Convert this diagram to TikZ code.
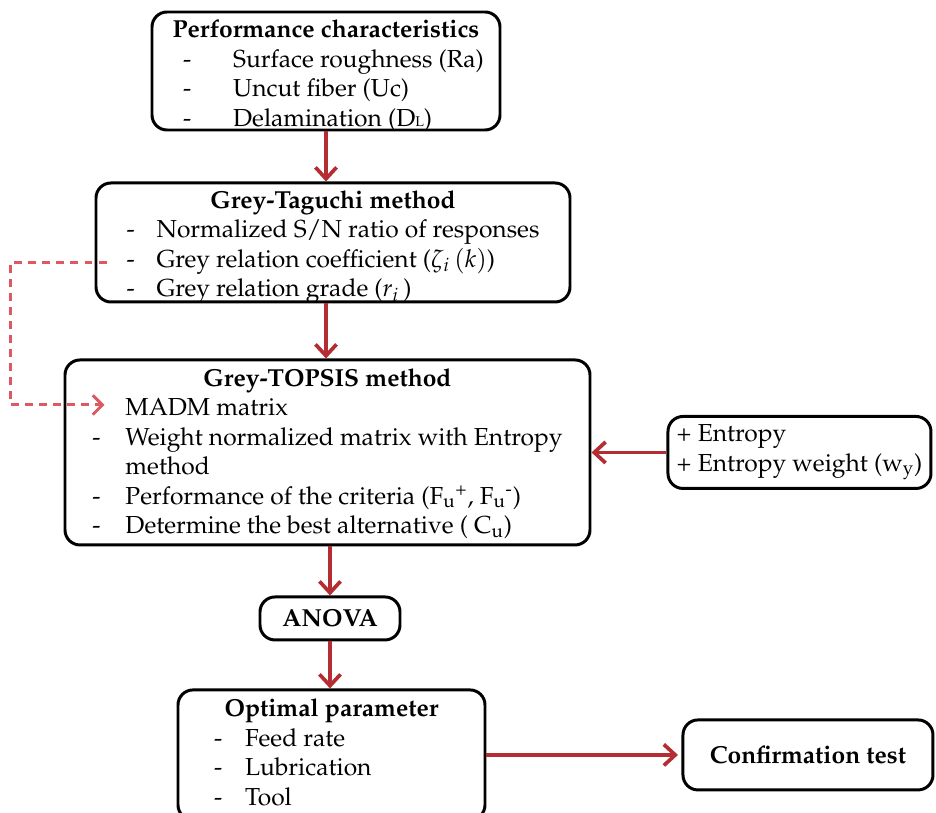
\documentclass[tikz,border=0pt]{standalone}
\usepackage[T1]{fontenc}
\usepackage{mathpazo}
\usepackage{tikz}
\usetikzlibrary{arrows.meta,positioning,calc}

\definecolor{arrred}{RGB}{180,45,50}
\definecolor{dashred}{RGB}{222,88,98}

\tikzset{
  box/.style={draw, line width=1.7pt, rounded corners=0.3cm, inner sep=0pt, align=center,
              font=\fontsize{14}{16.8}\selectfont},
  link/.style={-{Straight Barb[length=6.5pt,width=12pt]}, draw=arrred, line width=2.1pt},
  feedback/.style={-{Straight Barb[length=5.5pt,width=11pt]}, draw=dashred, line width=1.7pt,
                   dash pattern=on 4.5pt off 3.5pt}
}

\begin{document}
\begin{tikzpicture}
	\useasboundingbox (0,0) rectangle (18.72,-16.26);
	\node[box, minimum width=6.96cm, minimum height=2.36cm] (perf) at (6.52,-1.42)
		{\begin{tabular}{@{\hspace{0.3cm}}p{1cm}@{}l@{}}
		\multicolumn{2}{@{}c@{}}{\textbf{Performance characteristics}}\\
		- & Surface roughness (Ra)\\
		- & Uncut fiber (Uc)\\
		- & Delamination (D{\footnotesize L})\\[-0.2cm]
		\end{tabular}};
	\node[box, minimum width=9.48cm, minimum height=2.38cm] (taguchi) [below=1cm of perf, xshift=0.14cm]
		{\begin{tabular}{@{}p{0.6cm}@{}l@{}}
		\multicolumn{2}{c}{\textbf{Grey-Taguchi method}}\\
		- & Normalized S/N ratio of responses\\
		- & Grey relation coefficient ($\zeta_i\,(k)$)\\
		- & Grey relation grade ($r_i$\,)\\[-0.16cm]
		\end{tabular}};
	\node[box, minimum width=10.5cm, minimum height=3.7cm] (topsis) [below=1.1cm of taguchi, xshift=-0.11cm]
		{\begin{tabular}{@{}p{0.66cm}@{}l@{}}
		\multicolumn{2}{c}{\textbf{Grey-TOPSIS method}}\\
		  & MADM matrix\\
		- & Weight normalized matrix with Entropy\\
		  & method\\
		- & Performance of the criteria (F\textsubscript{u}\textsuperscript{+}, F\textsubscript{u}\textsuperscript{-})\\
		- & Determine the best alternative ( C\textsubscript{u})\\[-0.06cm]
		\end{tabular}};
	\node[box, minimum width=5.26cm, minimum height=1.44cm, align=left] (entropy) [right=1.5cm of topsis]
		{+ Entropy\\ + Entropy weight (w\textsubscript{y})};
	\node[box, minimum width=2.8cm, minimum height=0.86cm] (anova) [below=0.98cm of topsis, xshift=0.05cm]
		{\textbf{ANOVA}};
	\node[box, minimum width=6.14cm, minimum height=2.6cm] (optimal) [below=0.94cm of anova, xshift=0.03cm]
		{\begin{tabular}{@{}p{0.62cm}@{}l@{}}
		\multicolumn{2}{c}{\textbf{Optimal parameter}}\\
		- & Feed rate\\
		- & Lubrication\\
		- & Tool
		\end{tabular}};
	\node[box, minimum width=5cm, minimum height=1.4cm] (confirm) [right=3.9cm of optimal]
		{\textbf{Confirmation test}};
	\coordinate (madm) at ($(topsis.west)+(0.82,0.95)$);

	% main flow
	\draw[link] (perf.south) -- (perf.south |- taguchi.north);
	\draw[link] (perf.south |- taguchi.south) -- (perf.south |- topsis.north);
	\draw[link] (anova.north |- topsis.south) -- (anova.north);
	\draw[link] (anova.south) -- (anova.south |- optimal.north);
	\draw[link] (entropy.west) -- (entropy.west -| topsis.east);
	\draw[link, shorten >=2pt] (optimal.east |- confirm.west) -- (confirm.west);
	% feedback to the MADM matrix
	\draw[feedback] ($(taguchi.west)+(0.24,-0.4)$) -- ++(-1.92,0) |- (madm);
\end{tikzpicture}
\end{document}
